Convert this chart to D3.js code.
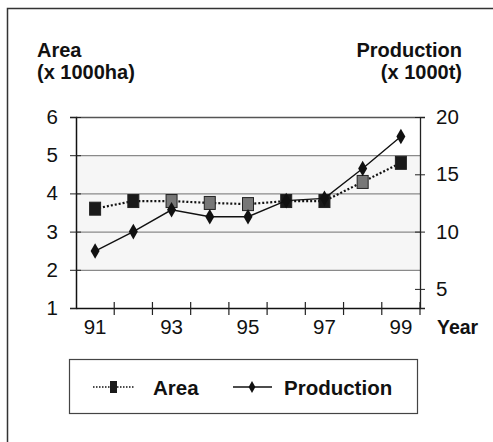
<!DOCTYPE html>
<html>
<head>
<meta charset="utf-8">
<script src="https://cdn.jsdelivr.net/npm/d3@7"></script>
<style>
  body { margin: 0; background: #fff; }
  text { font-family: Arial, "Liberation Sans", sans-serif; fill: #111; }
</style>
</head>
<body>
<div id="vis"></div>
<script>
// data
let years = ['91', '92', '93', '94', '95', '96', '97', '98', '99']
let area = [3.6, 3.8, 3.8, 3.75, 3.72, 3.8, 3.8, 4.3, 4.8]          // x 1000ha, left axis
let production = [8.3, 10.0, 11.9, 11.3, 11.3, 12.7, 12.9, 15.5, 18.3] // x 1000t, right axis
let leftTicks = [1, 2, 3, 4, 5, 6]
let rightTicks = [5, 10, 15, 20]
let yearLabels = ['91', '93', '95', '97', '99']

let width = 493, height = 442
let margin = {top: 117, right: 73, bottom: 134, left: 76}

let svg = d3.select('#vis')
  .append('svg')
  .attr('width', width)
  .attr('height', height)

// outer frame (top + left only, like the scan)
svg.append('path')
  .attr('d', `M7.5,${height} V8.5 H${width}`)
  .attr('fill', 'none')
  .attr('stroke', '#333')
  .attr('stroke-width', 1.5)

let xScale = d3.scaleBand()
  .domain(years)
  .range([margin.left, width - margin.right])
  .padding(0)

let yLeft = d3.scaleLinear()
  .domain([1, 6])
  .range([height - margin.bottom, margin.top])

// right axis shares the plot: 6 on left = 20 on right
let yRight = d3.scaleLinear()
  .domain([20 / 6, 20])
  .range([height - margin.bottom, margin.top])

let x0 = margin.left, x1 = width - margin.right

// light scan tint inside the plot
svg.append('rect')
  .attr('x', x0)
  .attr('y', yLeft(5))
  .attr('width', x1 - x0)
  .attr('height', yLeft(2) - yLeft(5))
  .attr('fill', '#f6f6f6')

// gridlines
svg.selectAll('.grid')
  .data(leftTicks.filter(d => d > 1 && d < 6))
  .join('line')
  .attr('class', 'grid')
  .attr('x1', x0)
  .attr('x2', x1)
  .attr('y1', d => yLeft(d) + 0.5)
  .attr('y2', d => yLeft(d) + 0.5)
  .attr('stroke', '#8a8a8a')
  .attr('stroke-width', 1.2)

// top border of plot
svg.append('line')
  .attr('x1', x0).attr('x2', x1)
  .attr('y1', yLeft(6) + 0.5).attr('y2', yLeft(6) + 0.5)
  .attr('stroke', '#555')
  .attr('stroke-width', 1.3)

// left axis
let leftAxis = svg.append('g')
  .attr('transform', `translate(${x0},0)`)
  .call(d3.axisLeft(yLeft).tickValues(leftTicks).tickFormat(d3.format('d')).tickSize(6).tickPadding(12))
leftAxis.select('.domain').attr('stroke', '#111').attr('stroke-width', 1.5)
leftAxis.selectAll('.tick line').attr('x1', 5).attr('stroke', '#222')
leftAxis.selectAll('.tick text').attr('font-size', '20.5px').attr('fill', '#111')

// right axis
let rightAxis = svg.append('g')
  .attr('transform', `translate(${x1},0)`)
  .call(d3.axisRight(yRight).tickValues(rightTicks).tickFormat(d3.format('d')).tickSize(5).tickPadding(11))
rightAxis.select('.domain').attr('stroke', '#222').attr('stroke-width', 1.3)
rightAxis.selectAll('.tick line').attr('x1', -5).attr('stroke', '#222')
rightAxis.selectAll('.tick text').attr('font-size', '20.5px').attr('fill', '#111')

// bottom axis: labels at band centres, ticks between categories
let xAxis = svg.append('g')
  .attr('transform', `translate(0,${height - margin.bottom})`)
  .call(d3.axisBottom(xScale)
    .tickSize(0)
    .tickPadding(11)
    .tickFormat(d => yearLabels.includes(d) ? d : ''))
xAxis.select('.domain').attr('stroke', '#111').attr('stroke-width', 1.5)
xAxis.selectAll('.tick text').attr('font-size', '20.5px').attr('fill', '#111')

svg.selectAll('.xtick')
  .data(years.slice(1).concat(['end']))
  .join('line')
  .attr('class', 'xtick')
  .attr('x1', (d, i) => x0 + xScale.step() * (i + 1))
  .attr('x2', (d, i) => x0 + xScale.step() * (i + 1))
  .attr('y1', height - margin.bottom - 6)
  .attr('y2', height - margin.bottom + 7)
  .attr('stroke', '#222')
  .attr('stroke-width', 1.2)

let cx = d => xScale(d) + xScale.bandwidth() / 2

// Area: dotted line + squares
svg.append('path')
  .datum(area)
  .attr('d', d3.line().x((d, i) => cx(years[i])).y(d => yLeft(d)))
  .attr('fill', 'none')
  .attr('stroke', '#111')
  .attr('stroke-width', 2.2)
  .attr('stroke-dasharray', '2,2')

svg.selectAll('.sq')
  .data(area)
  .join('rect')
  .attr('class', 'sq')
  .attr('x', (d, i) => cx(years[i]) - 5.5)
  .attr('y', d => yLeft(d) - 6.5)
  .attr('width', 11)
  .attr('height', 13)
  .attr('fill', (d, i) => [2, 3, 4, 7].includes(i) ? '#777' : '#1a1a1a')
  .attr('stroke', '#222')
  .attr('stroke-width', 1)

// Production: solid line + diamonds
svg.append('path')
  .datum(production)
  .attr('d', d3.line().x((d, i) => cx(years[i])).y(d => yRight(d)))
  .attr('fill', 'none')
  .attr('stroke', '#111')
  .attr('stroke-width', 1.4)

svg.selectAll('.dia')
  .data(production)
  .join('path')
  .attr('class', 'dia')
  .attr('transform', (d, i) => `translate(${cx(years[i])},${yRight(d)})`)
  .attr('d', d3.symbol().type(d3.symbolDiamond).size(70))
  .attr('fill', '#111')

// axis titles
svg.append('text').attr('x', 37).attr('y', 57)
  .attr('font-size', '20px').attr('font-weight', 'bold').text('Area')
svg.append('text').attr('x', 37).attr('y', 79)
  .attr('font-size', '20px').attr('font-weight', 'bold').text('(x 1000ha)')
svg.append('text').attr('x', 462).attr('y', 57).attr('text-anchor', 'end')
  .attr('font-size', '20px').attr('font-weight', 'bold').text('Production')
svg.append('text').attr('x', 462).attr('y', 79).attr('text-anchor', 'end')
  .attr('font-size', '20px').attr('font-weight', 'bold').text('(x 1000t)')
svg.append('text').attr('x', 437).attr('y', 334)
  .attr('font-size', '19.5px').attr('font-weight', 'bold').text('Year')

// legend
let legend = svg.append('g')
legend.append('rect')
  .attr('x', 69.5).attr('y', 359.5)
  .attr('width', 348).attr('height', 54)
  .attr('fill', '#fff')
  .attr('stroke', '#444')
  .attr('stroke-width', 1.2)

let ly = 387
legend.append('line')
  .attr('x1', 93).attr('x2', 135).attr('y1', ly).attr('y2', ly)
  .attr('stroke', '#111').attr('stroke-width', 1.6).attr('stroke-dasharray', '1.5,1.5')
legend.append('rect')
  .attr('x', 110).attr('y', ly - 6).attr('width', 7).attr('height', 12)
  .attr('fill', '#1a1a1a')
legend.append('text').attr('x', 153).attr('y', ly + 7.5)
  .attr('font-size', '20.5px').attr('font-weight', 'bold').text('Area')

legend.append('line')
  .attr('x1', 233).attr('x2', 272).attr('y1', ly).attr('y2', ly)
  .attr('stroke', '#111').attr('stroke-width', 1.4)
legend.append('path')
  .attr('transform', `translate(252,${ly})`)
  .attr('d', d3.symbol().type(d3.symbolDiamond).size(40))
  .attr('fill', '#111')
legend.append('text').attr('x', 284).attr('y', ly + 7.5)
  .attr('font-size', '20.5px').attr('font-weight', 'bold').text('Production')
</script>
</body>
</html>
